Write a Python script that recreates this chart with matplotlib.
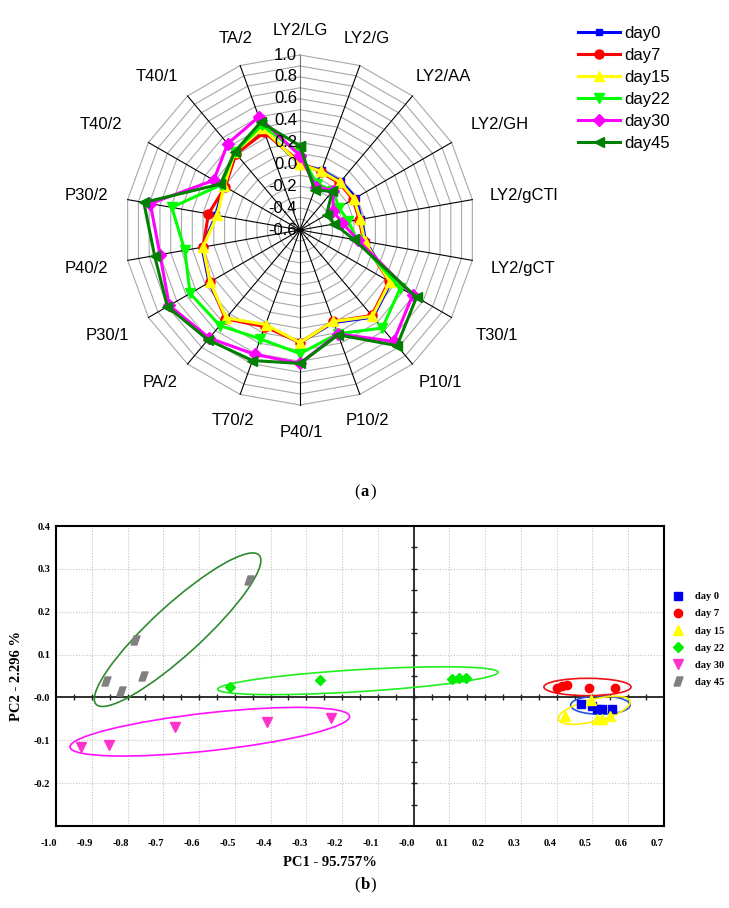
import numpy as np
import matplotlib
matplotlib.use('Agg')
import matplotlib.pyplot as plt
from matplotlib.patches import Ellipse
from matplotlib.lines import Line2D
from matplotlib.transforms import Affine2D, ScaledTranslation

plt.rcParams['font.family'] = ['Liberation Sans', 'DejaVu Sans']

# ---------------- (a) radar data ----------------
attributes = ['LY2/LG', 'LY2/G', 'LY2/AA', 'LY2/GH', 'LY2/gCTl', 'LY2/gCT', 'T30/1', 'P10/1', 'P10/2',
              'P40/1', 'T70/2', 'PA/2', 'P30/1', 'P40/2', 'P30/2', 'T40/2', 'T40/1', 'TA/2']
radar_names = ['day0', 'day7', 'day15', 'day22', 'day30', 'day45']
day0_vals = [0.00, -0.02, -0.02, -0.01, -0.03, 0.01, 0.36, 0.44, 0.30, 0.43, 0.33, 0.45, 0.36, 0.31, 0.18, 0.21, 0.33, 0.38]
day7_vals = [0.02, -0.04, -0.04, -0.04, -0.05, -0.01, 0.34, 0.42, 0.29, 0.43, 0.34, 0.46, 0.35, 0.30, 0.25, 0.19, 0.31, 0.35]
day15_vals = [0.00, -0.03, -0.03, -0.03, -0.04, 0.00, 0.35, 0.43, 0.29, 0.43, 0.32, 0.45, 0.35, 0.30, 0.17, 0.20, 0.33, 0.39]
day22_vals = [0.10, -0.15, -0.13, -0.19, -0.15, -0.07, 0.46, 0.57, 0.41, 0.53, 0.46, 0.54, 0.56, 0.47, 0.59, 0.23, 0.33, 0.42]
day30_vals = [0.08, -0.18, -0.13, -0.25, -0.21, -0.06, 0.59, 0.73, 0.41, 0.62, 0.61, 0.69, 0.78, 0.70, 0.79, 0.31, 0.43, 0.50]
day45_vals = [0.17, -0.21, -0.14, -0.32, -0.28, -0.10, 0.63, 0.78, 0.42, 0.62, 0.67, 0.71, 0.80, 0.75, 0.85, 0.24, 0.33, 0.45]
radar_ticks = [-0.6, -0.4, -0.2, 0.0, 0.2, 0.4, 0.6, 0.8, 1.0]

# ---------------- (b) PCA scores ----------------
pca_names = ['day 0', 'day 7', 'day 15', 'day 22', 'day 30', 'day 45']
pc1_day0 = [0.467, 0.498, 0.512, 0.526, 0.554]
pc2_day0 = [-0.016, -0.019, -0.026, -0.026, -0.026]
pc1_day7 = [0.402, 0.415, 0.429, 0.489, 0.564]
pc2_day7 = [0.022, 0.026, 0.029, 0.022, 0.021]
pc1_day15 = [0.422, 0.496, 0.512, 0.527, 0.550]
pc2_day15 = [-0.043, -0.007, -0.050, -0.050, -0.044]
pc1_day22 = [-0.513, -0.261, 0.108, 0.127, 0.146]
pc2_day22 = [0.024, 0.041, 0.044, 0.045, 0.045]
pc1_day30 = [-0.930, -0.852, -0.666, -0.410, -0.232]
pc2_day30 = [-0.116, -0.112, -0.070, -0.057, -0.047]
pc1_day45 = [-0.459, -0.779, -0.861, -0.819, -0.756]
pc2_day45 = [0.274, 0.133, 0.038, 0.015, 0.051]

# confidence ellipses: centre and two half-axis vectors (data units)
ell_center = [(0.522, -0.018), (0.486, 0.0244), (0.505, -0.030), (-0.156, 0.039), (-0.570, -0.080), (-0.660, 0.158)]
ell_u = [(0.0832, 0.0), (0.1218, 0.0), (0.1003, 0.0213), (0.392, 0.020), (0.3908, 0.0360), (0.228, 0.174)]
ell_v = [(0.0, 0.0214), (0.0, 0.0202), (-0.0076, 0.0248), (-0.0019, 0.0256), (-0.0058, 0.0439), (-0.0474, 0.0428)]

pc1_ticks = [-1.0, -0.9, -0.8, -0.7, -0.6, -0.5, -0.4, -0.3, -0.2, -0.1, 0.0, 0.1, 0.2, 0.3, 0.4, 0.5, 0.6, 0.7]
pc2_ticks = [-0.2, -0.1, 0.0, 0.1, 0.2, 0.3, 0.4]

W, H = 729, 908
fig = plt.figure(figsize=(W / 100, H / 100), dpi=100)

# ================= radar =================
cx, cy, R = 300, 230, 175
ax = fig.add_axes([(cx - R) / W, 1 - (cy + R) / H, 2 * R / W, 2 * R / H], projection='polar')
ax.set_theta_zero_location('N')
ax.set_theta_direction(-1)
ax.grid(False)
ax.set_xticks([])
ax.set_yticks([])
ax.spines['polar'].set_visible(False)

n = len(attributes)
angles = np.arange(n) * 2 * np.pi / n
closed = np.append(angles, angles[0])
for r in np.arange(-0.5, 1.001, 0.1):
    ax.plot(closed, np.full(n + 1, r), color='#a8a8a8', lw=0.8, zorder=1, clip_on=False)
for i, a in enumerate(angles):
    ax.plot([a, a], [-0.6, 1.0], color='#777777' if i == 0 else 'black', lw=0.8, zorder=1, clip_on=False)

radar_vals = [day0_vals, day7_vals, day15_vals, day22_vals, day30_vals, day45_vals]
radar_colors = ['#0000ff', '#ff0000', '#ffff00', '#00ff00', '#ff00ff', '#008000']
radar_markers = ['s', 'o', '^', 'v', 'D', '<']
radar_ms = [5, 6.5, 7, 7, 6, 7]
for name, vals, col, mk, ms in zip(radar_names, radar_vals, radar_colors, radar_markers, radar_ms):
    ax.plot(closed, np.append(vals, vals[0]), color=col, lw=2.2, marker=mk, ms=ms,
            label=name, zorder=3, clip_on=False)
ax.set_ylim(-0.6, 1.0)

for t in radar_ticks:
    ax.annotate(f'{t:.1f}', xy=(0, t), xytext=(-2, 0), textcoords='offset points',
                ha='right', va='center', fontsize=12, zorder=5)

# label centre offset from the end of each spoke, in pixels (x right, y down)
label_shift = [(0, -25), (7, -27), (31, -19), (48, -18), (51, -4), (51, 8), (45, 18), (28, 18), (8, 26),
               (1, 27), (-7, 26), (-27, 18), (-41, 18), (-41, 8), (-41, -4), (-48, -18), (-31, -19), (-5, -27)]
for a, lab, (dx, dy) in zip(angles, attributes, label_shift):
    ax.annotate(lab, xy=(a, 1.0), xytext=(dx * 0.72, -dy * 0.72), textcoords='offset points',
                ha='center', va='center', fontsize=12)

ax.legend(loc='upper left', bbox_to_anchor=(578 / W, 1 - 26 / H), bbox_transform=fig.transFigure,
          frameon=False, fontsize=12, handlelength=2.5, handletextpad=0.3, labelspacing=0.42,
          borderpad=0, borderaxespad=0)


def panel_label(x, y, letter):
    fig.text(x / W, 1 - y / H, letter, ha='center', va='center', fontsize=12, fontweight='bold',
             family='Liberation Serif')
    fig.text((x - 5) / W, 1 - y / H, '(', ha='right', va='center', fontsize=12, family='Liberation Serif')
    fig.text((x + 5) / W, 1 - y / H, ')', ha='left', va='center', fontsize=12, family='Liberation Serif')


panel_label(365, 492, 'a')

# ================= PCA =================
serif = 'Liberation Serif'
bx = fig.add_axes([56 / W, 1 - 826 / H, 608 / W, 300 / H])
bx.set_xlim(-1.0, 0.7)
bx.set_ylim(-0.3, 0.4)
bx.set_xticks(pc1_ticks)
bx.set_xticklabels(['-0.0' if v == 0 else f'{v:.1f}' for v in pc1_ticks])
bx.set_yticks(pc2_ticks)
bx.set_yticklabels(['-0.0' if v == 0 else f'{v:.1f}' for v in pc2_ticks])
bx.tick_params(axis='both', length=0, labelsize=7.5)
bx.tick_params(axis='x', pad=9.5)
bx.tick_params(axis='y', pad=4)
for lab in bx.get_xticklabels() + bx.get_yticklabels():
    lab.set_fontfamily(serif)
    lab.set_fontweight('bold')
for lab in bx.get_xticklabels():
    lab.set_transform(lab.get_transform() + ScaledTranslation(-7 / 100, 0, fig.dpi_scale_trans))
bx.grid(True, color='#c4c4c4', ls=(0, (1, 1.5)), lw=0.8)
bx.set_axisbelow(True)
for sp in bx.spines.values():
    sp.set_linewidth(1.5)
    sp.set_color('black')

bx.axhline(0, color='#202020', lw=1.3, zorder=2)
bx.axvline(0, color='#202020', lw=1.3, zorder=2)
tx = np.arange(-0.95, 0.66, 0.05)
ty = np.arange(-0.25, 0.36, 0.05)
bx.plot(tx, np.zeros_like(tx), ls='none', marker='|', ms=4, mew=1, color='#202020', zorder=2)
bx.plot(np.zeros_like(ty), ty, ls='none', marker='_', ms=4, mew=1, color='#202020', zorder=2)

ell_colors = ['#2255dd', '#ee1111', '#ffee00', '#22ee22', '#ff10ff', '#2f8a30']
for (ecx, ecy), u, v, col in zip(ell_center, ell_u, ell_v, ell_colors):
    m = np.array([[u[0], v[0], ecx], [u[1], v[1], ecy], [0, 0, 1]])
    bx.add_patch(Ellipse((0, 0), 2, 2, fill=False, ec=col, lw=1.2, zorder=3,
                         transform=Affine2D(m) + bx.transData))

para = [(-1, -1), (0.3, -1), (1, 1), (-0.3, 1), (-1, -1)]
pca_x = [pc1_day0, pc1_day7, pc1_day15, pc1_day22, pc1_day30, pc1_day45]
pca_y = [pc2_day0, pc2_day7, pc2_day15, pc2_day22, pc2_day30, pc2_day45]
pca_colors = ['#0000ee', '#ff0000', '#ffff00', '#00ee00', '#ff33cc', '#808080']
pca_markers = ['s', 'o', '^', 'D', 'v', para]
pca_ms = [5.5, 6, 6.5, 5, 6.5, 6.5]
handles = []
for name, xs, ys, col, mk, ms in zip(pca_names, pca_x, pca_y, pca_colors, pca_markers, pca_ms):
    bx.plot(xs, ys, ls='none', marker=mk, ms=ms, color=col, mec=col, zorder=4)
    handles.append(Line2D([], [], ls='none', marker=mk, ms=ms, color=col, mec=col, label=name))

bx.legend(handles=handles, loc='upper left', bbox_to_anchor=(672 / W, 1 - 592 / H),
          bbox_transform=fig.transFigure, frameon=False, handlelength=1.2, handletextpad=1.0,
          labelspacing=0.75, borderpad=0, borderaxespad=0,
          prop={'family': serif, 'weight': 'bold', 'size': 7.5})

fig.text(330 / W, 1 - 862 / H, 'PC1 - 95.757%', ha='center', va='center', fontsize=10.5,
         fontweight='bold', family=serif)
fig.text(17 / W, 1 - 676 / H, 'PC2 - 2.296 %', ha='center', va='center', fontsize=10.5,
         fontweight='bold', family=serif, rotation=90)
panel_label(365, 885, 'b')

fig.savefig('out.png', dpi=100)
